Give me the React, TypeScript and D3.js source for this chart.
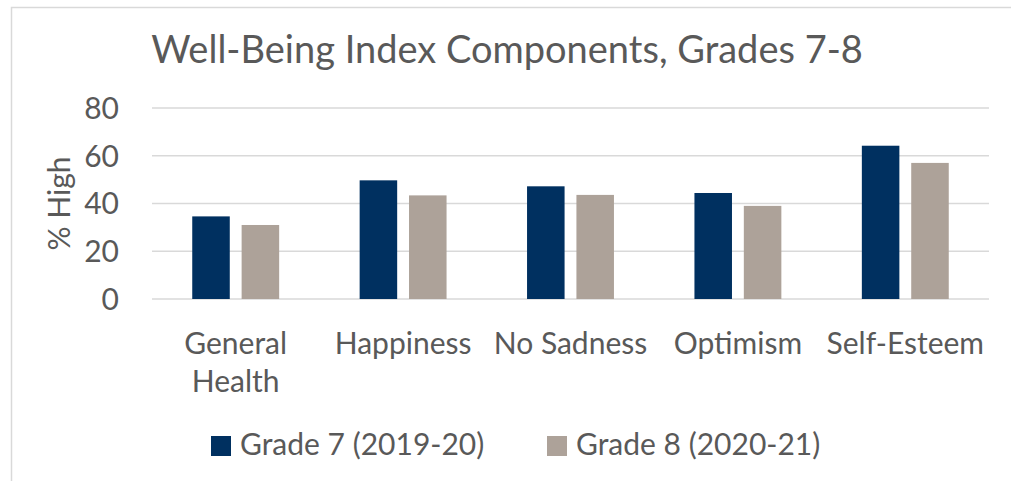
import * as d3 from "d3";

const categories = ["General Health", "Happiness", "No Sadness", "Optimism", "Self-Esteem"];
const seriesNames = ["Grade 7 (2019-20)", "Grade 8 (2020-21)"];
const grade7 = [34.6, 49.7, 47.2, 44.4, 64.2];
const grade8 = [31.0, 43.4, 43.6, 39.0, 57.0];
const yTicks = [0, 20, 40, 60, 80];
const colors = ["#003060", "#ADA299"];

const FONT = "Lato, 'Liberation Sans', sans-serif";
const TEXT = "#595959";

const App = () => {
  const width = 1011;
  const height = 481;
  const plot = { left: 152, right: 989, top: 108, bottom: 299 };

  const x0 = d3.scaleBand<string>().domain(categories).range([plot.left, plot.right]);
  const x1 = d3
    .scaleBand<string>()
    .domain(seriesNames)
    .range([0, x0.bandwidth()])
    .paddingInner(0.24)
    .paddingOuter(0.815);
  const y = d3.scaleLinear().domain([0, 80]).range([plot.bottom, plot.top]);

  const series = [grade7, grade8];

  // split long category names onto two lines like Excel does
  const labelLines: Record<string, string[]> = {
    "General Health": ["General", "Health"],
  };

  return (
    <svg width={width} height={height} style={{ position: "absolute", left: 0, top: 0 }}>
      <rect x={0} y={0} width={width} height={height} fill="#fff" />
      {/* chart border */}
      <rect x={11.5} y={7.5} width={width + 20} height={height + 20} fill="none" stroke="#d9d9d9" strokeWidth={1.5} />

      <text x={507} y={63} textAnchor="middle" fontFamily={FONT} fontSize={38} fill={TEXT}>
        Well-Being Index Components, Grades 7-8
      </text>

      {/* gridlines and y ticks */}
      {yTicks.map((t) => (
        <g key={t}>
          <line x1={plot.left} x2={plot.right} y1={y(t)} y2={y(t)} stroke="#d9d9d9" strokeWidth={1.5} />
          <text x={119} y={y(t)} dy="0.36em" textAnchor="end" fontFamily={FONT} fontSize={30} fill={TEXT}>
            {t}
          </text>
        </g>
      ))}

      <text
        transform={`translate(70,${y(40)}) rotate(-90)`}
        textAnchor="middle"
        fontFamily={FONT}
        fontSize={30}
        fill={TEXT}
      >
        % High
      </text>

      {/* bars */}
      {categories.map((c, i) => (
        <g key={c} transform={`translate(${x0(c)},0)`}>
          {seriesNames.map((s, j) => (
            <rect
              key={s}
              x={x1(s)}
              y={y(series[j][i])}
              width={x1.bandwidth()}
              height={y(0) - y(series[j][i])}
              fill={colors[j]}
            />
          ))}
        </g>
      ))}

      {/* category labels */}
      {categories.map((c) => {
        const lines = labelLines[c] || [c];
        return (
          <text key={c} textAnchor="middle" fontFamily={FONT} fontSize={30} fill={TEXT}>
            {lines.map((ln, k) => (
              <tspan key={ln} x={x0(c)! + x0.bandwidth() / 2} y={354 + k * 38}>
                {ln}
              </tspan>
            ))}
          </text>
        );
      })}

      {/* legend */}
      {seriesNames.map((s, j) => {
        const lx = [211, 547][j];
        return (
          <g key={s}>
            <rect x={lx} y={436} width={20} height={20} fill={colors[j]} />
            <text x={lx + 29} y={455} fontFamily={FONT} fontSize={30} fill={TEXT}>
              {s}
            </text>
          </g>
        );
      })}
    </svg>
  );
};

export default App;
